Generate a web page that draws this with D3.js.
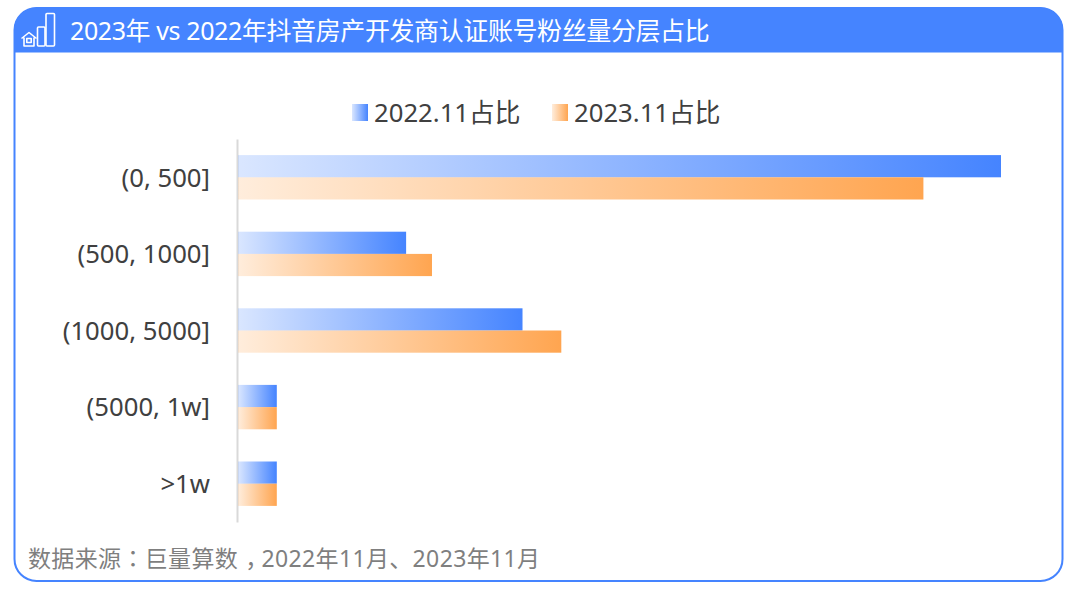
<!DOCTYPE html>
<html><head><meta charset="utf-8">
<script src="https://cdn.jsdelivr.net/npm/d3@7"></script>
<style>
html,body{margin:0;padding:0;background:#fff;}
svg{display:block;}
text{font-family:"Noto Sans","Noto Sans CJK SC",sans-serif;}
</style></head><body>
<svg id="c" width="1080" height="596"></svg>
<script>
const categories = ["(0, 500]","(500, 1000]","(1000, 5000]","(5000, 1w]",">1w"];
const seriesNames = ["2022.11占比","2023.11占比"];
const values2022 = [59,13,22,3,3];
const values2023 = [53,15,25,3,3];
const titleText = "2023年 vs 2022年抖音房产开发商认证账号粉丝量分层占比";
const sourceParts = ["数据来源","：","巨量算数","，","2022年11月、2023年11月"];
const blue="#4584ff", orange="#ffa550";

const svg=d3.select("#c");
const defs=svg.append("defs");
function grad(id,c,a){const g=defs.append("linearGradient").attr("id",id).attr("x1","0").attr("x2","1").attr("y1","0").attr("y2","0");
 g.append("stop").attr("offset","0").attr("stop-color",c).attr("stop-opacity",a);
 g.append("stop").attr("offset","1").attr("stop-color",c).attr("stop-opacity",1);}
grad("g0",blue,0.2);grad("g1",orange,0.2);

// frame
const L=14.5,R=1062.5,T=8,B=581,r=22,H=52;
svg.append("rect").attr("x",L).attr("y",T).attr("width",R-L).attr("height",B-T).attr("rx",r).attr("fill","#fff").attr("stroke",blue).attr("stroke-width",2);
svg.append("path").attr("d",`M${L},${H}V${T+r}A${r},${r} 0 0 1 ${L+r},${T}H${R-r}A${r},${r} 0 0 1 ${R},${T+r}V${H}Z`).attr("fill",blue).attr("stroke",blue).attr("stroke-width",1);

// icon
const ic=svg.append("g").attr("fill","none").attr("stroke","#fff").attr("stroke-width",1.6).attr("stroke-linejoin","round");
ic.append("rect").attr("x",46).attr("y",13.5).attr("width",8.5).attr("height",32.5).attr("rx",1);
ic.append("rect").attr("x",37.5).attr("y",27).attr("width",7.5).attr("height",19).attr("rx",1);
ic.append("path").attr("d","M21.5,38.5L29,32.5L36.5,38.5M24,37.5V46H34V37.5");
ic.append("rect").attr("x",26.8).attr("y",38.5).attr("width",4.4).attr("height",4);

svg.append("text").attr("x",70).attr("y",40).attr("fill","#fff").attr("font-size",25).attr("letter-spacing",-0.4).text(titleText);

// scales
const x=d3.scaleLinear().domain([0,59]).range([238,1001]);
const y=d3.scaleBand().domain(categories).range([139,522]);
const bh=22.2;

const axis=d3.axisLeft(y).tickSize(0).tickPadding(27);
const ag=svg.append("g").attr("transform","translate(237,0)").call(axis);
ag.select(".domain").attr("stroke","#d9d9d9").attr("stroke-width",2);
ag.selectAll("text").attr("font-size",25.7).attr("fill","#404040").attr("dy","0.36em").attr("font-family",'"Noto Sans","Noto Sans CJK SC",sans-serif');

[values2022,values2023].forEach((vals,i)=>{
 svg.append("g").selectAll("rect").data(vals).join("rect")
  .attr("x",x(0)).attr("width",d=>x(d)-x(0))
  .attr("y",(d,k)=>y(categories[k])+y.bandwidth()/2-bh+i*bh)
  .attr("height",bh).attr("fill",`url(#g${i})`);
});

// legend
const lx=[352,552];
seriesNames.forEach((n,i)=>{
 svg.append("rect").attr("x",lx[i]).attr("y",104).attr("width",16).attr("height",17).attr("fill",`url(#g${i})`);
 svg.append("text").attr("x",lx[i]+22).attr("y",122).attr("font-size",25.7).attr("fill","#404040").text(n);
});

const src=svg.append("text").attr("x",28).attr("y",567).attr("font-size",23).attr("fill","#7f7f7f").attr("letter-spacing",0.35);
const srcDx=[0,0,0,7,-7];
sourceParts.forEach((p,i)=>{
 src.append("tspan").attr("dx",srcDx[i]).style("font-family",i===1?'"Noto Sans CJK TC"':null).text(p);
});
</script></body></html>
